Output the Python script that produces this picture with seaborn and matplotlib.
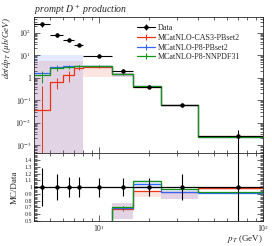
import numpy as np
import matplotlib
matplotlib.use("Agg")
import matplotlib.pyplot as plt
import seaborn as sns
from matplotlib.lines import Line2D
from matplotlib.ticker import FuncFormatter, LogLocator, MultipleLocator, NullFormatter

# pT bins (GeV)
bin_edges = [4, 5, 6, 7, 8, 12, 16, 24, 40, 100]

# data: dsigma/dpT (mub/GeV) and relative uncertainty
data_vals = [245, 80, 49, 29, 9.5, 2.05, 0.40, 0.063, 0.0025]
data_relerr = [0.28, 0.19, 0.15, 0.15, 0.14, 0.13, 0.13, 0.19, 0.92]

# MC predictions
cas3_vals = [0.036, 0.66, 1.32, 2.6, 2.9, 1.39, 0.378, 0.0586, 0.00248]
cas3_err = [0.40, 0.34, 0.65, 0.5, 0.2, 0.05, 0.01, 0.001, 0.00003]
cas3_lo = [1e-6, 1e-6, 1e-6, 1e-6, 1.1, 1.07, 0.34, 0.052, 0.00238]
cas3_hi = [5.5, 5.5, 5.5, 5.5, 2.9, 1.56, 0.378, 0.0586, 0.0025]

p8pb_vals = [1.55, 3.1, 3.4, 3.4, 3.3, 1.41, 0.416, 0.058, 0.00228]
p8pb_err = [0.3, 0.5, 0.4, 0.3, 0.15, 0.06, 0.01, 0.001, 0.00003]
p8pb_lo = [1e-6, 1e-6, 1e-6, 1e-6, 2.9, 1.07, 0.39, 0.052, 0.00224]
p8pb_hi = [10.5, 10.5, 10.5, 10.5, 3.6, 1.56, 0.44, 0.060, 0.00232]

nnpdf_vals = [1.32, 2.6, 2.9, 3.4, 3.4, 1.44, 0.434, 0.0609, 0.00233]
nnpdf_err = [0.75, 0.6, 0.5, 0.3, 0.15, 0.05, 0.01, 0.001, 0.00003]

labels = ["MCatNLO-CAS3-PBset2", "MCatNLO-P8-PBset2", "MCatNLO-P8-NNPDF31"]
colors = ["#EE3311", "#3366FF", "#109618"]

sns.set_style("ticks")
plt.rcParams["font.family"] = ["Liberation Serif", "DejaVu Serif"]
plt.rcParams["mathtext.fontset"] = "stix"
plt.rcParams["axes.linewidth"] = 0.6

edges = np.array(bin_edges, dtype=float)
centers = 0.5 * (edges[:-1] + edges[1:])
halfw = 0.5 * np.diff(edges)
data = np.array(data_vals)
derr = data * np.array(data_relerr)

fig = plt.figure(figsize=(2.72, 2.46), dpi=100)
ax = fig.add_axes([0.125, 0.377, 0.842, 0.555])
rax = fig.add_axes([0.125, 0.102, 0.842, 0.275], sharex=ax)

mc_sets = [
    (cas3_vals, cas3_err, cas3_lo, cas3_hi),
    (p8pb_vals, p8pb_err, p8pb_lo, p8pb_hi),
    (nnpdf_vals, nnpdf_err, None, None),
]

# uncertainty bands
for (vals, err, lo, hi), col in zip(mc_sets, colors):
    if lo is None:
        continue
    lo_ = np.append(lo, lo[-1])
    hi_ = np.append(hi, hi[-1])
    dd = np.append(data, data[-1])
    ax.fill_between(edges, lo_, hi_, step="post", color=col, alpha=0.13, lw=0)
    rax.fill_between(edges, lo_ / dd, hi_ / dd, step="post", color=col, alpha=0.13, lw=0)

# MC histograms
for (vals, err, lo, hi), col in zip(mc_sets, colors):
    v = np.array(vals)
    e = np.array(err)
    sns.lineplot(x=edges, y=np.append(v, v[-1]), drawstyle="steps-post", color=col,
                 lw=0.9, ax=ax, legend=False)
    ax.errorbar(centers, v, yerr=e, fmt="none", ecolor=col, elinewidth=0.7)
    r = v / data
    sns.lineplot(x=edges, y=np.append(r, r[-1]), drawstyle="steps-post", color=col,
                 lw=0.9, ax=rax, legend=False)
    rax.errorbar(centers, r, yerr=e / data, fmt="none", ecolor=col, elinewidth=0.7)

# data
ax.errorbar(centers, data, xerr=halfw, yerr=derr, fmt="o", color="black", ms=2.2,
            elinewidth=0.8, capsize=0, zorder=5)
sns.lineplot(x=edges, y=np.ones(len(edges)), color="black", lw=0.9, ax=rax, legend=False)
rax.errorbar(centers, np.ones(len(centers)), yerr=np.array(data_relerr), fmt="o",
             color="black", ms=2.2, elinewidth=0.8, capsize=0, zorder=5)

# axes
ax.set_xscale("log")
ax.set_yscale("log")
ax.set_xlim(4, 100)
ax.set_ylim(4.3e-4, 515)
rax.set_ylim(0.5, 1.5)

def ylog_fmt(v, pos):
    n = int(round(np.log10(v)))
    if n == 0:
        return "1"
    return r"$10^{%d}$" % n

ax.yaxis.set_major_locator(LogLocator(base=10, numticks=20))
ax.yaxis.set_minor_locator(LogLocator(base=10, subs=np.arange(2, 10), numticks=20))
ax.yaxis.set_major_formatter(FuncFormatter(ylog_fmt))
ax.yaxis.set_minor_formatter(NullFormatter())
plt.setp(ax.get_xticklabels(which="both"), visible=False)

rax.yaxis.set_minor_locator(MultipleLocator(0.02))
rax.set_yticks([0.5, 0.6, 0.7, 0.8, 0.9, 1.0, 1.1, 1.2, 1.3, 1.4])
rax.set_yticklabels(["0.5", "0.6", "0.7", "0.8", "0.9", "1", "1.1", "1.2", "1.3", "1.4"])
rax.xaxis.set_minor_formatter(NullFormatter())

for a in (ax, rax):
    a.tick_params(which="both", direction="in", top=True, right=True, labelsize=5.5,
                  width=0.5, pad=2)
    a.tick_params(which="major", length=4)
    a.tick_params(which="minor", length=2)
rax.tick_params(axis="y", labelsize=4.2, pad=1.5)
rax.tick_params(axis="x", pad=1.5)

ax.set_ylabel(r"$d\sigma/dp_T$ ($\mu b$/GeV)", loc="top", fontsize=6.5, labelpad=2,
              fontstyle="italic")
rax.set_ylabel("MC/Data", fontsize=6.5, labelpad=4)
rax.set_xlabel(r"$p_T$ (GeV)", loc="right", fontsize=6.5, labelpad=-1)
ax.set_title(r"prompt $D^+$ production", loc="left", fontsize=7, fontstyle="italic", pad=3)

# legend with errorbar-style handles
handles = [(Line2D([], [], color="black", lw=0.8, marker="|", ms=5, mew=0.8),
            Line2D([], [], color="black", lw=0, marker="o", ms=2.2))]
for col in colors:
    handles.append(Line2D([], [], color=col, lw=0.9, marker="|", ms=5, mew=0.8))
ax.legend(handles, ["Data"] + labels, loc="upper left",
          bbox_to_anchor=(0.43, 0.98), frameon=False, fontsize=5.8, handlelength=2.2,
          handletextpad=0.4, labelspacing=0.2, borderaxespad=0.2)

fig.savefig("out.png", dpi=100)
